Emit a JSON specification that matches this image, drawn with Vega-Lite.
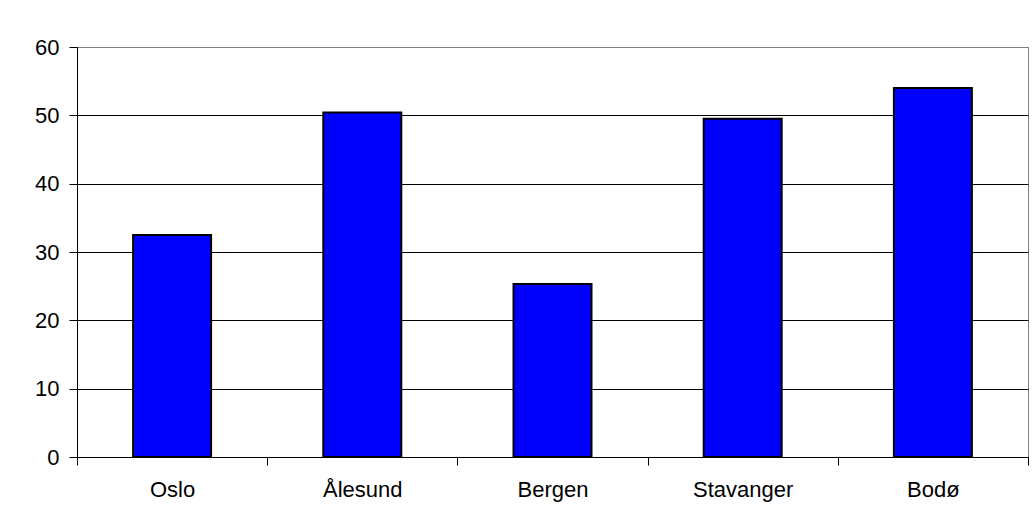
{
  "$schema": "https://vega.github.io/schema/vega-lite/v6.json",
  "autosize": "none",
  "width": 951,
  "height": 410,
  "padding": {"left": 77, "top": 47, "right": 5, "bottom": 69},
  "background": "white",
  "config": {
    "font": "Liberation Sans",
    "view": {"stroke": "#808080", "strokeWidth": 1}
  },
  "data": {
    "values": [
      {"city": "Oslo", "value": 32.5},
      {"city": "Ålesund", "value": 50.4},
      {"city": "Bergen", "value": 25.3},
      {"city": "Stavanger", "value": 49.5},
      {"city": "Bodø", "value": 54.0}
    ]
  },
  "mark": {"type": "bar", "color": "#0000FF", "stroke": "#000000", "strokeWidth": 2, "width": {"band": 0.41}},
  "encoding": {
    "x": {
      "field": "city",
      "type": "nominal",
      "sort": null,
      "scale": {"paddingInner": 0, "paddingOuter": 0},
      "axis": {
        "title": null,
        "labelAngle": 0,
        "labelFont": "Liberation Sans",
        "labelFontSize": 22,
        "labelColor": "#000000",
        "labelPadding": 14,
        "tickBand": "extent",
        "tickSize": 8,
        "tickColor": "#000000",
        "domainColor": "#000000",
        "grid": false
      }
    },
    "y": {
      "field": "value",
      "type": "quantitative",
      "scale": {"domain": [0, 60], "nice": false},
      "axis": {
        "title": null,
        "values": [0, 10, 20, 30, 40, 50, 60],
        "labelFont": "Liberation Sans",
        "labelFontSize": 22,
        "labelColor": "#000000",
        "labelPadding": 10,
        "tickSize": 8,
        "tickColor": "#000000",
        "domainColor": "#000000",
        "grid": true,
        "gridColor": {"condition": {"test": "datum.value == 60", "value": "#808080"}, "value": "#000000"},
        "gridOpacity": 1
      }
    }
  }
}
